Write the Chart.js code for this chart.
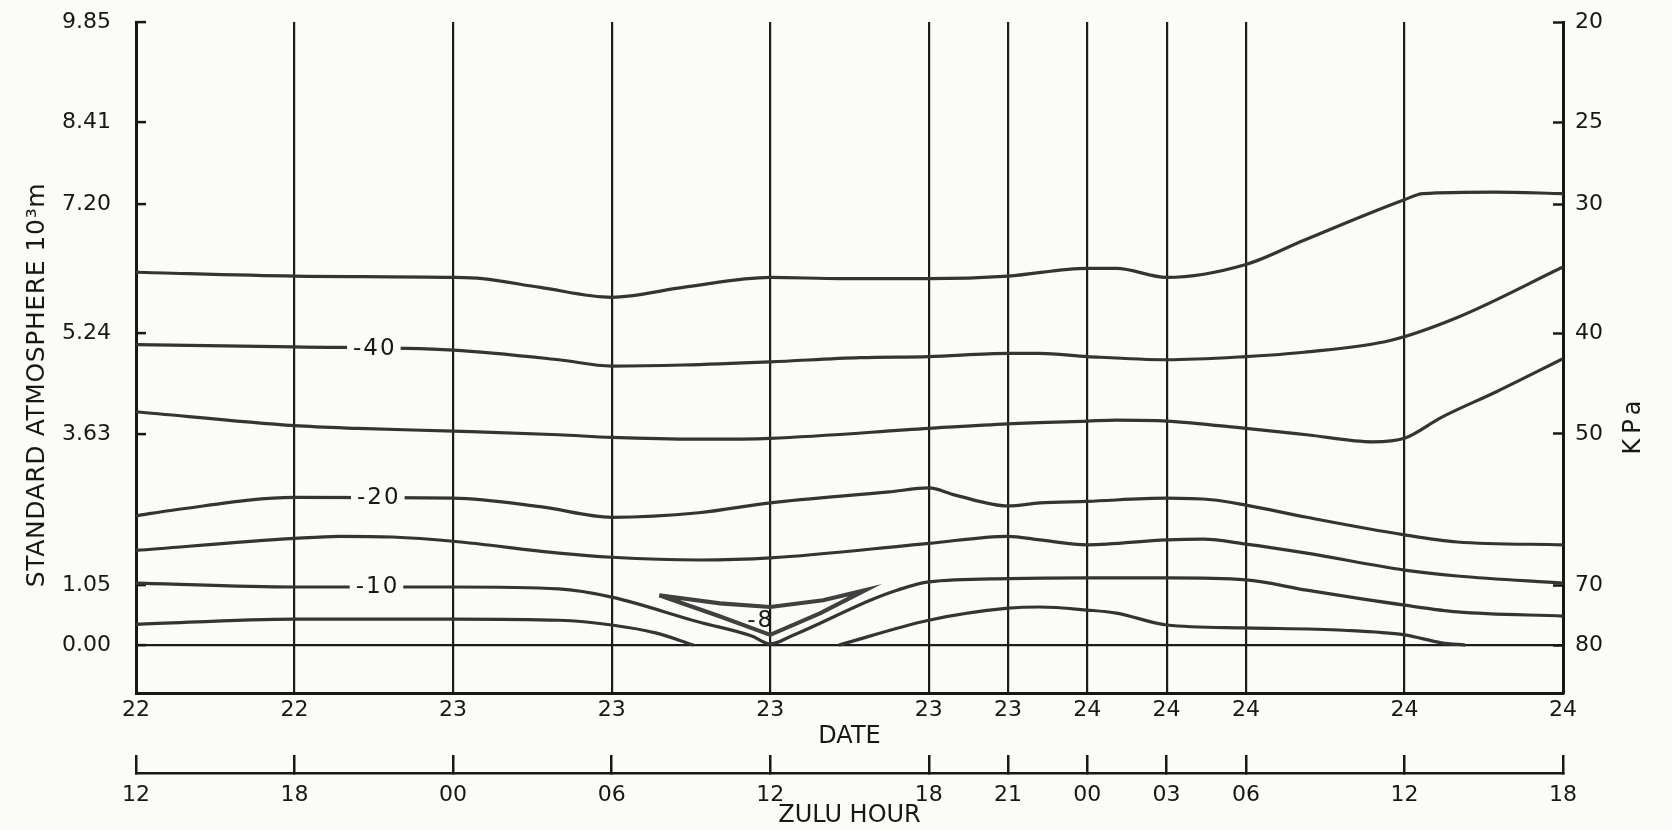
<!DOCTYPE html>
<html>
<head>
<meta charset="utf-8">
<script src="https://cdn.jsdelivr.net/npm/chart.js@4.4.1/dist/chart.umd.min.js"></script>
<style>
  html, body { margin: 0; padding: 0; background: #fbfbf8; }
  #wrap { width: 1672px; height: 830px; position: relative; }
</style>
</head>
<body>
<div id="wrap"><canvas id="c"></canvas></div>
<script>
// ---- axes ----
const hourTicks = [0, 6, 12, 18, 24, 30, 33, 36, 39, 42, 48, 54];
const dateLabels = ['22', '22', '23', '23', '23', '23', '23', '24', '24', '24', '24', '24'];
const zuluLabels = ['12', '18', '00', '06', '12', '18', '21', '00', '03', '06', '12', '18'];
const pressureTicks = [20, 25, 30, 40, 50, 70, 80];
const pressureLabels = ['20', '25', '30', '40', '50', '70', '80'];
const heightLabels = ['9.85', '8.41', '7.20', '5.24', '3.63', '1.05', '0.00'];

// ---- isotherms (hours after 22/12Z, pressure kPa) ----
const lineAHours = [0, 6, 12, 13.1, 15.3, 18, 20.7, 24, 26.7, 30, 33, 36, 37.1, 39, 42, 44.2, 48, 48.7, 51.4, 54];
const lineAKpa   = [34.9, 35.2, 35.3, 35.4, 36.1, 36.9, 36.1, 35.3, 35.4, 35.4, 35.2, 34.6, 34.6, 35.3, 34.3, 32.5, 29.7, 29.3, 29.2, 29.3];

const lineBHours = [0, 6, 12, 16, 18, 20.7, 24, 27.4, 30, 33, 34.2, 36, 39, 42, 44.2, 47.5, 50, 54];
const lineBKpa   = [41.0, 41.2, 41.5, 42.4, 43.0, 42.9, 42.6, 42.2, 42.1, 41.8, 41.8, 42.1, 42.4, 42.1, 41.7, 40.6, 38.6, 34.5];

const lineCHours = [0, 6, 8.4, 12, 16, 18, 21.3, 24, 30, 33, 36, 37.1, 39, 42, 44.3, 46.8, 48, 49.4, 51.5, 54];
const lineCKpa   = [47.6, 49.1, 49.4, 49.7, 50.1, 50.4, 50.6, 50.5, 49.4, 48.9, 48.6, 48.5, 48.6, 49.4, 50.1, 50.9, 50.5, 48.2, 45.5, 42.3];

const lineDHours = [0, 1.5, 6, 12, 15.3, 18, 21.3, 24, 28.5, 30, 31, 33, 34.2, 36, 39, 40.7, 42, 44.3, 48, 50, 54];
const lineDKpa   = [60.0, 59.2, 57.6, 57.7, 58.8, 60.2, 59.6, 58.3, 56.9, 56.4, 57.3, 58.7, 58.3, 58.1, 57.7, 57.9, 58.6, 60.2, 62.6, 63.6, 64.0];

const lineEHours = [0, 6, 7.7, 9.7, 12, 16, 18, 21.3, 24, 30, 33, 34.2, 36, 39, 40.4, 42, 44.3, 48, 50, 54];
const lineEKpa   = [64.8, 63.1, 62.8, 62.9, 63.5, 65.2, 65.8, 66.2, 65.9, 63.8, 62.8, 63.3, 64.0, 63.3, 63.2, 63.9, 65.2, 67.7, 68.6, 69.7];

const lineFHours = [0, 6, 12, 16, 18, 21.3, 23.3, 24, 24.8, 27.9, 28.8, 30, 33, 36, 39, 42, 44.3, 48, 50, 54];
const lineFKpa   = [69.7, 70.3, 70.3, 70.6, 71.9, 76.0, 78.4, 79.8, 78.4, 72.2, 70.8, 69.5, 69.0, 68.9, 68.9, 69.2, 70.8, 73.2, 74.3, 75.0];

const lineG1Hours = [0, 6, 12, 16, 18, 19.7, 21.1];
const lineG1Kpa   = [76.4, 75.5, 75.5, 75.7, 76.5, 77.9, 80.0];

const lineG2Hours = [26.6, 30, 33, 34.2, 36, 37.1, 39, 42, 45.7, 48, 49.4, 50.3];
const lineG2Kpa   = [80.0, 75.7, 73.7, 73.5, 74.0, 74.5, 76.5, 77.0, 77.4, 78.2, 79.6, 80.0];

const loopHours = [19.8, 22.1, 24, 26.0, 27.6, 25.9, 24, 22.0, 19.8];
const loopKpa   = [71.6, 72.9, 73.5, 72.4, 70.8, 74.5, 78.2, 74.9, 71.6];

// ---- contour labels ----
const contourLabels = ['-40', '-20', '-10', '-8'];
const labelHours    = [9.0, 9.15, 9.1, 23.6];
const labelKpa      = [41.3, 57.6, 70.2, 75.7];
const labelBoxed    = [true, true, true, false];

// ---- styles ----
const ink = '#171717';
const gridInk = '#1c1c1c';
const lineInk = '#343434';
const bg = '#fbfbf8';
const FONT = '"DejaVu Sans", "Liberation Sans", sans-serif';

Chart.defaults.font.family = FONT;
Chart.defaults.color = ink;

const pts = (h, p) => h.map((v, i) => ({ x: v, y: p[i] }));
const lineDs = (h, p, extra) => Object.assign({
  data: pts(h, p), borderColor: lineInk, borderWidth: 3.2, pointRadius: 0,
  fill: false, cubicInterpolationMode: 'monotone', xAxisID: 'x', yAxisID: 'y'
}, extra || {});

const overlay = {
  id: 'overlay',
  afterDatasetsDraw(chart) {
    const { ctx } = chart;
    const xs = chart.scales.x, ys = chart.scales.y;
    ctx.save();
    ctx.font = '23px ' + FONT;
    ctx.letterSpacing = '2px';
    ctx.textAlign = 'center';
    ctx.textBaseline = 'middle';
    contourLabels.forEach((t, i) => {
      const px = xs.getPixelForValue(labelHours[i]);
      const py = ys.getPixelForValue(labelKpa[i]);
      const w = ctx.measureText(t).width;
      if (labelBoxed[i]) {
        ctx.fillStyle = bg;
        ctx.fillRect(px - w / 2 - 5, py - 8, w + 10, 16);
      }
      ctx.fillStyle = ink;
      ctx.fillText(t, px + 1, py + 1);
    });
    ctx.restore();
  },
  afterDraw(chart) {
    const { ctx } = chart;
    ctx.save();
    ctx.fillStyle = ink;
    ctx.textAlign = 'center';
    ctx.textBaseline = 'middle';
    ctx.font = '25px ' + FONT;
    ctx.letterSpacing = '0.6px';
    ctx.translate(37, 385);
    ctx.rotate(-Math.PI / 2);
    ctx.fillText('STANDARD ATMOSPHERE 10\u00B3m', 0, 0);
    ctx.restore();

    ctx.save();
    ctx.fillStyle = ink;
    ctx.textAlign = 'center';
    ctx.textBaseline = 'middle';
    ctx.font = '24px ' + FONT;
    ctx.letterSpacing = '5px';
    ctx.translate(1634, 425);
    ctx.rotate(-Math.PI / 2);
    ctx.fillText('KPa', 0, 0);
    ctx.restore();
  }
};

const setHourTicks = s => { s.ticks = hourTicks.map(v => ({ value: v })); };
const setPressureTicks = s => { s.ticks = pressureTicks.map(v => ({ value: v })); };

new Chart(document.getElementById('c'), {
  type: 'line',
  data: {
    datasets: [
      lineDs(lineAHours, lineAKpa),
      lineDs(lineBHours, lineBKpa),
      lineDs(lineCHours, lineCKpa),
      lineDs(lineDHours, lineDKpa),
      lineDs(lineEHours, lineEKpa),
      lineDs(lineFHours, lineFKpa),
      lineDs(lineG1Hours, lineG1Kpa),
      lineDs(lineG2Hours, lineG2Kpa),
      lineDs(loopHours, loopKpa, { cubicInterpolationMode: 'default', tension: 0, borderWidth: 4.2, borderColor: '#404040' })
    ]
  },
  options: {
    responsive: true,
    maintainAspectRatio: false,
    animation: false,
    devicePixelRatio: 1,
    layout: { padding: { top: 22, left: 62, right: 69, bottom: 0 } },
    plugins: { legend: { display: false }, tooltip: { enabled: false }, title: { display: false } },
    scales: {
      x: {
        type: 'linear', position: 'bottom', min: 0, max: 54,
        afterBuildTicks: setHourTicks,
        afterFit: s => { s.height = 80; },
        grid: { color: gridInk, lineWidth: 2.2, drawTicks: false, drawOnChartArea: true },
        border: { color: ink, width: 3 },
        ticks: { callback: (v, i) => dateLabels[i], padding: 4, color: ink, font: { size: 22 }, maxRotation: 0, autoSkip: false },
        title: { display: true, text: 'DATE', color: ink, font: { size: 24 }, padding: { top: 0, bottom: 22 } }
      },
      x2: {
        type: 'linear', position: 'bottom', min: 0, max: 54,
        afterBuildTicks: setHourTicks,
        afterFit: s => { s.height = 57; },
        grid: { drawOnChartArea: false, drawTicks: true, tickLength: -18, tickColor: ink, tickWidth: 2.5, lineWidth: 2.5 },
        border: { color: ink, width: 2.5 },
        ticks: { callback: (v, i) => zuluLabels[i], padding: 27, color: ink, font: { size: 22 }, maxRotation: 0, autoSkip: false },
        title: { display: true, text: 'ZULU HOUR', color: ink, font: { size: 24 }, padding: { top: 0, bottom: 0 } }
      },
      y: {
        type: 'logarithmic', position: 'left', reverse: true, min: 20, max: 89,
        afterBuildTicks: setPressureTicks,
        afterFit: s => { s.width = 74; },
        grid: {
          color: c => (c.tick && c.tick.value === 80) ? gridInk : 'rgba(0,0,0,0)',
          lineWidth: 2.2, drawTicks: true, tickLength: -10, tickColor: ink, tickWidth: 2.5
        },
        border: { color: ink, width: 3 },
        ticks: { callback: (v, i) => heightLabels[i], padding: 4, crossAlign: 'far', color: ink, font: { size: 22 }, autoSkip: false }
      },
      y2: {
        type: 'logarithmic', position: 'right', reverse: true, min: 20, max: 89,
        afterBuildTicks: setPressureTicks,
        afterFit: s => { s.width = 40; },
        grid: { drawOnChartArea: false, drawTicks: true, tickLength: -10, tickColor: ink, tickWidth: 2.5 },
        border: { color: ink, width: 3 },
        ticks: { callback: (v, i) => pressureLabels[i], padding: 4, crossAlign: 'far', color: ink, font: { size: 22 }, autoSkip: false }
      }
    }
  },
  plugins: [overlay]
});
</script>
</body>
</html>
